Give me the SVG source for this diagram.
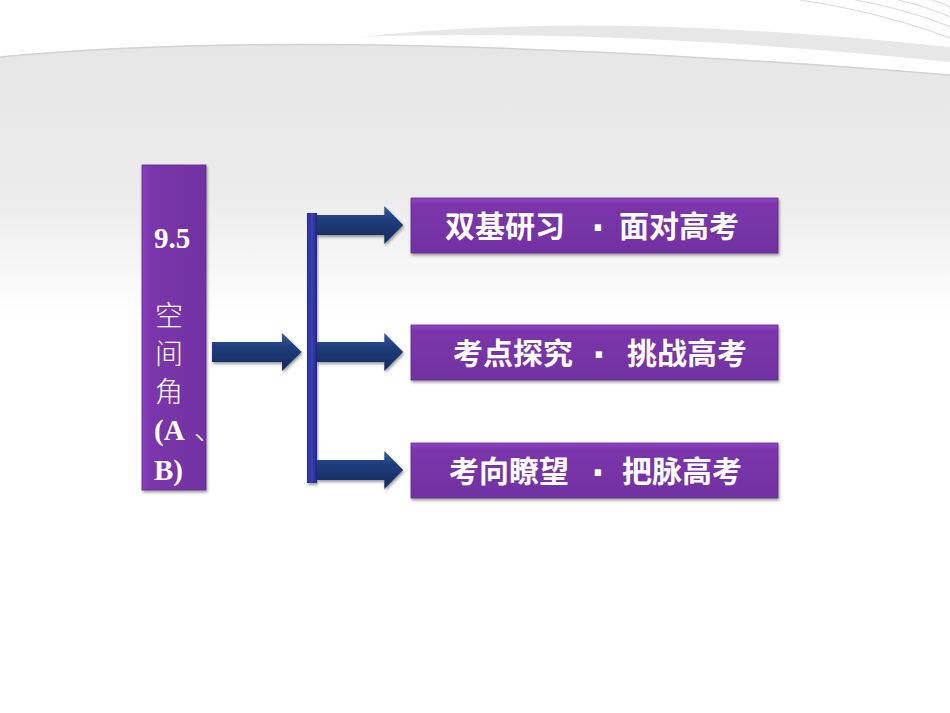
<svg xmlns="http://www.w3.org/2000/svg" width="950" height="713" viewBox="0 0 950 713">
<defs>
<linearGradient id="bg" x1="0" y1="0" x2="0" y2="1">
<stop offset="0" stop-color="#e6e6e6"/>
<stop offset="0.55" stop-color="#ececec"/>
<stop offset="1" stop-color="#ffffff"/>
</linearGradient>
<linearGradient id="purp" x1="0" y1="0" x2="0" y2="1">
<stop offset="0" stop-color="#9146c4"/>
<stop offset="0.12" stop-color="#7a36aa"/>
<stop offset="1" stop-color="#7232a2"/>
</linearGradient>
<linearGradient id="purpV" x1="0" y1="0" x2="1" y2="0">
<stop offset="0" stop-color="#8a40bc"/>
<stop offset="0.15" stop-color="#7a36aa"/>
<stop offset="1" stop-color="#7232a2"/>
</linearGradient>
<linearGradient id="arr" x1="0" y1="0" x2="0" y2="1">
<stop offset="0" stop-color="#3a5a9c"/>
<stop offset="0.35" stop-color="#1f3d7c"/>
<stop offset="1" stop-color="#142a5c"/>
</linearGradient>
<linearGradient id="bar" x1="0" y1="0" x2="1" y2="0">
<stop offset="0" stop-color="#2a2f9a"/>
<stop offset="0.5" stop-color="#3a40b8"/>
<stop offset="1" stop-color="#22287e"/>
</linearGradient>
<filter id="sh" x="-10%" y="-10%" width="130%" height="140%">
<feDropShadow dx="1" dy="2" stdDeviation="1.5" flood-color="#000" flood-opacity="0.4"/>
</filter>
<path id="arrowR" d="M0,-10 L68,-10 L68,-19 L87,0 L68,19 L68,10 L0,10 Z"/>
</defs>
<style>
.cn{font-family:"Noto Sans CJK SC","Liberation Sans",sans-serif;font-weight:bold;font-size:30px;fill:#ffffff}
.dot{font-family:"Liberation Sans",sans-serif;font-weight:bold;font-size:44px;fill:#ffffff;text-anchor:middle}
.lt{font-family:"Noto Sans CJK SC","Liberation Sans",sans-serif;font-weight:300;font-size:28px;fill:#ffffff}
.sf{font-family:"Liberation Serif","Noto Sans CJK SC",serif;font-weight:bold;font-size:29px;fill:#ffffff}
.arrow{fill:url(#arr);filter:url(#sh)}
.box{fill:url(#purp);stroke:#5f2a88;stroke-width:0.8;filter:url(#sh)}
</style>
<rect width="950" height="713" fill="#ffffff"/>
<g id="background">
<path d="M360,37 Q600,10 950,47 L950,62 Q620,28 360,37 Z" fill="#e7e7e7"/>
<path d="M0,57 Q330,25 950,75 L950,320 L0,320 Z" fill="url(#bg)"/>
<path d="M0,57 Q330,25 950,75" fill="none" stroke="#d2d2d2" stroke-width="1.5"/>
<path d="M800,0 Q880,12 950,38" fill="none" stroke="#dcdcdc" stroke-width="1.2"/>
<path d="M855,0 Q910,10 950,27" fill="none" stroke="#dcdcdc" stroke-width="1.2"/>
<path d="M898,0 Q928,7 950,17" fill="none" stroke="#dcdcdc" stroke-width="1.2"/>
<path d="M932,0 Q942,3 950,7" fill="none" stroke="#dcdcdc" stroke-width="1.2"/>
</g>
<g id="node-main">
<rect x="142" y="165" width="64" height="325" fill="url(#purpV)" stroke="#5f2a88" stroke-width="0.8" filter="url(#sh)"/>
<text class="sf" x="154" y="248">9.5</text>
<text class="lt" x="155" y="326">空</text>
<text class="lt" x="155" y="364">间</text>
<text class="lt" x="155" y="402">角</text>
<text class="sf" x="154" y="440">(A<tspan class="lt" x="194" font-size="22">、</tspan></text>
<text class="sf" x="154" y="480">B)</text>
</g>
<g id="connectors">
<use href="#arrowR" class="arrow" transform="translate(212,352) scale(1.03,1)"/>
<rect x="307" y="213" width="10" height="270" fill="url(#bar)" filter="url(#sh)"/>
<use href="#arrowR" class="arrow" transform="translate(317,225) scale(0.99,1)"/>
<use href="#arrowR" class="arrow" transform="translate(317,352) scale(0.99,1)"/>
<use href="#arrowR" class="arrow" transform="translate(317,470) scale(0.99,1)"/>
</g>
<g id="node-1">
<rect class="box" x="411" y="198" width="367" height="55"/>
<text class="cn" x="445" y="237">双基研习</text>
<text class="dot" x="599" y="243">·</text>
<text class="cn" x="619" y="237">面对高考</text>
</g>
<g id="node-2">
<rect class="box" x="411" y="325" width="367" height="55"/>
<text class="cn" x="453" y="364">考点探究</text>
<text class="dot" x="600" y="370">·</text>
<text class="cn" x="627" y="364">挑战高考</text>
</g>
<g id="node-3">
<rect class="box" x="411" y="443" width="367" height="55"/>
<text class="cn" x="449" y="482">考向瞭望</text>
<text class="dot" x="599" y="488">·</text>
<text class="cn" x="622" y="482">把脉高考</text>
</g>
</svg>
